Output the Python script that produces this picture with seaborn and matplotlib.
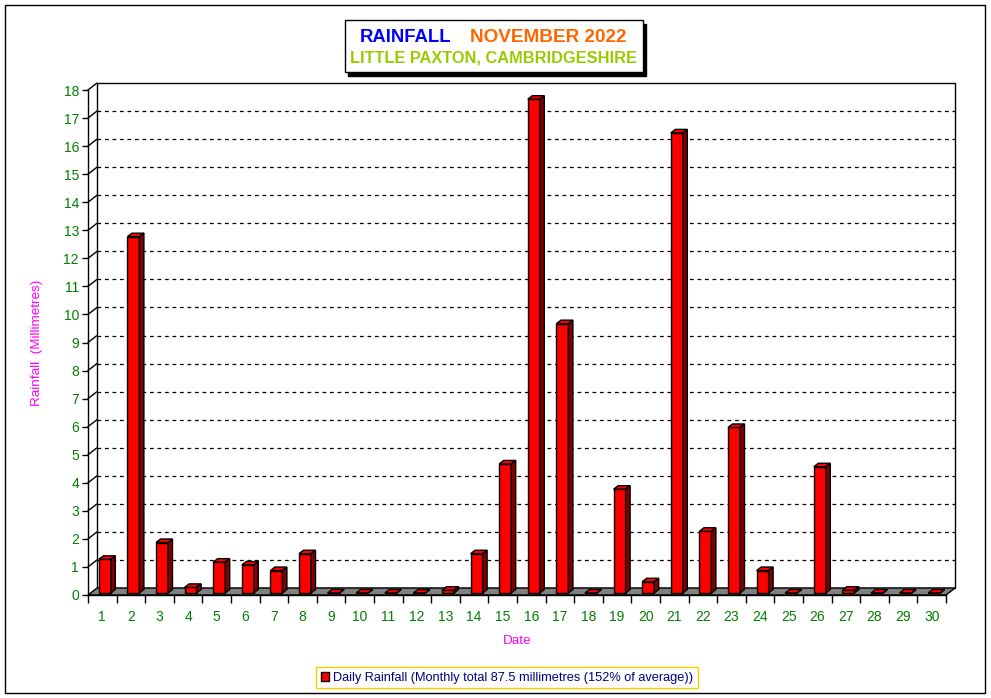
import matplotlib
matplotlib.use("Agg")
from matplotlib import pyplot as plt
from matplotlib.patches import Rectangle, Polygon
from matplotlib.lines import Line2D
from matplotlib.transforms import offset_copy, IdentityTransform
import seaborn as sns
import numpy as np

# daily rainfall, Little Paxton, November 2022 (mm)
days = [str(d) for d in range(1, 31)]
rain = [1.2, 12.7, 1.8, 0.2, 1.1, 1.0, 0.8, 1.4, 0.0, 0.0,
        0.0, 0.0, 0.1, 1.4, 4.6, 17.6, 9.6, 0.0, 3.7, 0.4,
        16.4, 2.2, 5.9, 0.8, 0.0, 4.5, 0.1, 0.0, 0.0, 0.0]
yticks = list(range(0, 19))
legend_label = "Daily Rainfall (Monthly total 87.5 millimetres (152% of average))"

W, H = 991, 698
DEPTH = (9, 7)      # back wall offset, pixels
BAR_IN = (2.5, 2)   # bar front face pushed into the floor
BAR_D = (4.5, 3.5)  # bar depth

sns.set_style("white")
plt.rcParams["font.family"] = ["Liberation Sans", "DejaVu Sans"]

def fx(x):
    return x / W

def fy(y):
    return 1 - y / H

fig = plt.figure(figsize=(W / 100, H / 100), dpi=100)
ax = fig.add_axes([fx(88), fy(595), (946 - 88) / W, (595 - 90) / H])
ax.patch.set_visible(False)

# front bars from seaborn, shifted a little into the floor
sns.barplot(x=days, y=rain, color="#ff0000", width=0.42, edgecolor="black",
            linewidth=1, saturation=1, label=legend_label, ax=ax, zorder=5)
ax.set_xlim(-0.5, 29.5)
ax.set_ylim(0, 18)
bars = list(ax.patches)
front_t = offset_copy(ax.transData, fig=fig, x=BAR_IN[0], y=BAR_IN[1], units="dots")
for p in bars:
    p.set_transform(front_t)
    p.set_clip_on(False)

fig.canvas.draw()
ident = IdentityTransform()

# back wall
wall_t = offset_copy(ax.transAxes, fig=fig, x=DEPTH[0], y=DEPTH[1], units="dots")
ax.add_patch(Rectangle((0, 0), 1, 1, transform=wall_t, facecolor="white",
                       edgecolor="black", lw=1, zorder=0, clip_on=False))
wall_d = offset_copy(ax.transData, fig=fig, x=DEPTH[0], y=DEPTH[1], units="dots")
for y in yticks[1:-1]:
    ax.add_line(Line2D([-0.5, 29.5], [y, y], transform=wall_d, color="black",
                       lw=0.9, ls=(0, (3, 3)), zorder=1, clip_on=False))
for y in yticks[1:]:
    x0, y0 = ax.transData.transform((-0.5, y))
    ax.add_line(Line2D([x0, x0 + DEPTH[0]], [y0, y0 + DEPTH[1]], transform=ident,
                       color="black", lw=1, zorder=1, clip_on=False))

# floor
fl, _ = ax.transData.transform((-0.5, 0))
fr, f0 = ax.transData.transform((29.5, 0))
ax.add_patch(Polygon([(fl, f0), (fr, f0), (fr + DEPTH[0], f0 + DEPTH[1]),
                      (fl + DEPTH[0], f0 + DEPTH[1])], closed=True, transform=ident,
                     facecolor="#808080", edgecolor="black", lw=1, zorder=2, clip_on=False))

# tops and sides of the bars
dx, dy = BAR_D
for p in bars:
    x0, y0 = ax.transData.transform((p.get_x(), 0)) + np.array(BAR_IN)
    x1, y1 = ax.transData.transform((p.get_x() + p.get_width(), p.get_height())) + np.array(BAR_IN)
    ax.add_patch(Polygon([(x0, y1), (x1, y1), (x1 + dx, y1 + dy), (x0 + dx, y1 + dy)],
                         closed=True, transform=ident, facecolor="#ff0000",
                         edgecolor="black", lw=1, zorder=5, clip_on=False))
    ax.add_patch(Polygon([(x1, y0), (x1, y1), (x1 + dx, y1 + dy), (x1 + dx, y0 + dy)],
                         closed=True, transform=ident, facecolor="#800000",
                         edgecolor="black", lw=1, zorder=5, clip_on=False))

# axes, ticks
for s in ["top", "right"]:
    ax.spines[s].set_visible(False)
for s in ["left", "bottom"]:
    ax.spines[s].set_visible(True)
    ax.spines[s].set_color("black")
    ax.spines[s].set_linewidth(1)
    ax.spines[s].set_zorder(6)
ax.set_yticks(yticks)
ax.set_yticklabels([str(v) for v in yticks])
ax.set_xticks(range(30))
ax.set_xticklabels(days)
ax.set_xticks(np.arange(-0.5, 30, 1), minor=True)
ax.tick_params(axis="y", which="major", left=True, length=4.5, width=1, color="black",
               pad=2, labelsize=10, labelcolor="#008000")
ax.tick_params(axis="x", which="major", bottom=True, length=0, pad=11,
               labelsize=10, labelcolor="#008000")
ax.tick_params(axis="x", which="minor", bottom=True, length=6, width=1, color="black")
ax.set_xlabel("")
ax.set_ylabel("")

fig.text(fx(37), fy(343), "Rainfall  (Millimetres)", rotation=90, color="#ff00ff",
         fontsize=9.7, ha="center", va="center")
fig.text(fx(517), fy(641), "Date", color="#ff00ff", fontsize=9.7, ha="center", va="center")

# title box with shadow
fig.patches.append(Rectangle((fx(348), fy(76)), (643 - 345) / W, (72 - 20) / H,
                             transform=fig.transFigure, facecolor="black", edgecolor="black"))
fig.patches.append(Rectangle((fx(345), fy(72)), (643 - 345) / W, (72 - 20) / H,
                             transform=fig.transFigure, facecolor="white", edgecolor="black",
                             lw=1))
fig.text(fx(360), fy(37), "RAINFALL", color="#0000ff", fontsize=13.3, fontweight="bold",
         ha="left", va="center")
fig.text(fx(470), fy(37), "NOVEMBER 2022", color="#ff6600", fontsize=13.7, fontweight="bold",
         ha="left", va="center")
fig.text(fx(494), fy(58), "LITTLE PAXTON, CAMBRIDGESHIRE", color="#99cc00", fontsize=11.8,
         fontweight="bold", ha="center", va="center")

# legend
leg = ax.legend(loc="center", bbox_to_anchor=(fx(507), fy(677.5)), bbox_transform=fig.transFigure,
                frameon=True, fancybox=False, edgecolor="#ffcc00", framealpha=1,
                handlelength=0.7, handleheight=0.7, handletextpad=0.3, borderpad=0.35,
                fontsize=9.2, labelcolor="#000080")
leg.get_frame().set_linewidth(1)

# outer border
fig.patches.append(Rectangle((fx(5), fy(693)), (985 - 5) / W, (693 - 5) / H,
                             transform=fig.transFigure, facecolor="none", edgecolor="black",
                             lw=1))

fig.savefig("out.png", dpi=100)
